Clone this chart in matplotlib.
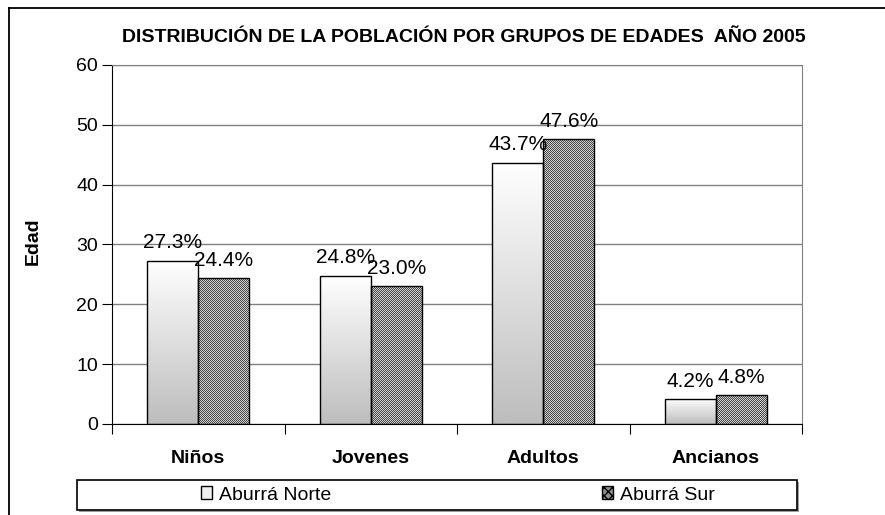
import numpy as np
import matplotlib
matplotlib.use("Agg")
import matplotlib.pyplot as plt
from matplotlib.patches import Rectangle, Patch
from matplotlib.lines import Line2D

categories = ["Niños", "Jovenes", "Adultos", "Ancianos"]
norte = [27.3, 24.8, 43.7, 4.2]
sur = [24.4, 23.0, 47.6, 4.8]
series_names = ["Aburrá Norte", "Aburrá Sur"]
title = "DISTRIBUCIÓN DE LA POBLACIÓN POR GRUPOS DE EDADES  AÑO 2005"
ylabel = "Edad"
yticks = [0, 10, 20, 30, 40, 50, 60]

W, H = 885, 515
DPI = 100
plt.rcParams['font.family'] = ['Liberation Sans', 'DejaVu Sans']
fig = plt.figure(figsize=(W / DPI, H / DPI), dpi=DPI)
fig.patch.set_facecolor('white')

# outer chart border (top and left visible)
fig.add_artist(Line2D([9 / W, 1], [1 - 8 / H, 1 - 8 / H], transform=fig.transFigure, color='black', lw=1.3))
fig.add_artist(Line2D([9 / W, 9 / W], [0, 1 - 8 / H], transform=fig.transFigure, color='black', lw=1.3))

ax = fig.add_axes([112 / W, 1 - 424 / H, (802 - 112) / W, (424 - 65) / H])
ax.set_xlim(-0.5, len(categories) - 0.5)
ax.set_ylim(0, 60)
ax.set_yticks(yticks)
ax.yaxis.grid(True, color='#808080', lw=1)
ax.set_axisbelow(True)
for s in ['top', 'right']:
    ax.spines[s].set_color('#808080')
for s in ['left', 'bottom']:
    ax.spines[s].set_color('black')

x = np.arange(len(categories))
bw = 0.295
bars_n = ax.bar(x - bw / 2, norte, bw, facecolor='none', edgecolor='black', lw=1, zorder=3)
bars_s = ax.bar(x + bw / 2, sur, bw, facecolor='none', edgecolor='black', lw=1, zorder=3)

# gradient fill for Norte bars
grad = np.linspace(1.0, 0.0, 256).reshape(-1, 1)
cmap_g = matplotlib.colors.LinearSegmentedColormap.from_list('g', ['#bdbdbd', '#ffffff'])
for b in bars_n:
    x0, y0, w, h = b.get_x(), b.get_y(), b.get_width(), b.get_height()
    im = ax.imshow(grad, extent=[x0, x0 + w, y0, y0 + h], aspect='auto', cmap=cmap_g,
                   vmin=0, vmax=1, origin='upper', zorder=2, interpolation='bilinear')
    im.set_clip_path(b)

# checker fill for Sur bars
fig.canvas.draw()
cmap_c = matplotlib.colors.ListedColormap(['#444444', '#d4d4d4'])
for b in bars_s:
    x0, y0, w, h = b.get_x(), b.get_y(), b.get_width(), b.get_height()
    p0 = ax.transData.transform((x0, y0))
    p1 = ax.transData.transform((x0 + w, y0 + h))
    nw = max(2, int(round(abs(p1[0] - p0[0]))))
    nh = max(2, int(round(abs(p1[1] - p0[1]))))
    ii, jj = np.indices((nh, nw))
    chk = ((ii + jj) % 2).astype(float)
    im = ax.imshow(chk, extent=[x0, x0 + w, y0, y0 + h], aspect='auto', cmap=cmap_c,
                   origin='upper', zorder=2, interpolation='nearest')
    im.set_clip_path(b)

ax.set_xlim(-0.5, len(categories) - 0.5)
ax.set_ylim(0, 60)

# value labels
for bars, vals in ((bars_n, norte), (bars_s, sur)):
    for b, v in zip(bars, vals):
        ax.annotate(f"{v:.1f}%", (b.get_x() + b.get_width() / 2, v), xytext=(0, 6),
                    textcoords='offset points', ha='center', va='bottom', fontsize=15, zorder=5)

# ticks
ax.set_xticks(np.arange(len(categories) + 1) - 0.5, minor=False)
ax.set_xticklabels([])
ax.set_xticks(x, minor=True)
ax.set_xticklabels(categories, minor=True, fontsize=14, fontweight='bold')
ax.tick_params(axis='x', which='minor', length=0, pad=19)
ax.tick_params(axis='x', which='major', length=7, direction='out', color='black')
ax.tick_params(axis='y', length=7, direction='out', labelsize=14, pad=3)

fig.text(33 / W, 1 - 241 / H, ylabel, rotation=90, ha='center', va='center',
         fontsize=14, fontweight='bold')
fig.text(464 / W, 1 - 38 / H, title, ha='center', va='center', fontsize=14, fontweight='bold')

# legend box
fig.add_artist(Rectangle((79 / W, 1 - 512 / H), 720 / W, 30 / H, transform=fig.transFigure,
                         facecolor='#a0a0a0', edgecolor='none', zorder=0))
fig.add_artist(Rectangle((77 / W, 1 - 510 / H), 720 / W, 30 / H, transform=fig.transFigure,
                         facecolor='white', edgecolor='black', lw=1.2, zorder=1))
handles = [Patch(facecolor='#eeeeee', edgecolor='black', lw=1),
           Patch(facecolor='#909090', edgecolor='black', lw=1, hatch='xxxx')]
leg = fig.legend(handles, series_names, loc='center', bbox_to_anchor=(458 / W, 1 - 495 / H),
                 ncol=2, frameon=False, fontsize=14, handlelength=0.6, handleheight=0.6,
                 handletextpad=0.35, columnspacing=13.9)
leg.set_zorder(5)

fig.savefig("out.png", dpi=DPI)
